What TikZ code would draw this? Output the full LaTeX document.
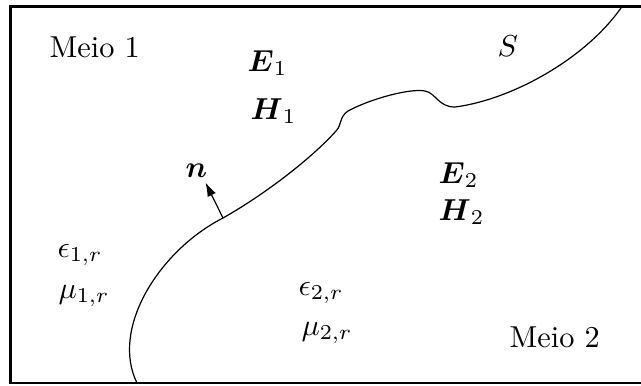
\documentclass[tikz,border=0pt]{standalone}
\usepackage{amsmath}
\usepackage{amssymb}
\usetikzlibrary{arrows.meta, positioning}

\begin{document}
\begin{tikzpicture}[
    x=0.33pt, y=-0.33pt,
    txt/.style={inner sep=0pt, anchor=base west},
    frame/.style={line width=0.8pt},
    surface/.style={line width=0.4pt},
    normal/.style={-{Latex[length=4.6pt, width=3pt]}, line width=0.4pt}
]
    \useasboundingbox (0,0) rectangle (641,385);

    % Frame
    \draw[frame] (641,6.5) -- (10.5,6.5) -- (10.5,383) -- (641,383);

    % Surface S
    \coordinate (foot) at (223,218);
    \draw[surface] (137,383) .. controls (110,328) and (160,250) .. (foot)
        .. controls (262,196) and (310,160) .. (336,131)
        .. controls (342,125) and (339,117) .. (348,111)
        .. controls (370,99) and (410,88) .. (425,91)
        .. controls (436,93) and (438,107) .. (455,107)
        .. controls (510,100) and (585,60) .. (622,6.5);

    % Medium 1
    \node[txt] (meio1) at (49,57) {Meio 1};
    \node[txt] (e1) at (247,71) {$\boldsymbol{E}_1$};
    \node[txt] (h1) at (250,119) {$\boldsymbol{H}_1$};
    \node[txt] (eps1) at (57,257) {$\epsilon_{1,r}$};
    \node[txt] (mu1) at (58,298) {$\mu_{1,r}$};

    % Medium 2
    \node[txt] (surf) at (497,56) {$S$};
    \node[txt] (e2) at (438,183) {$\boldsymbol{E}_2$};
    \node[txt] (h2) at (438,220) {$\boldsymbol{H}_2$};
    \node[txt] (eps2) at (298,295) {$\epsilon_{2,r}$};
    \node[txt] (mu2) at (301,335) {$\mu_{2,r}$};
    \node[txt] (meio2) at (509,347) {Meio 2};

    % Normal vector
    \node[txt] (n) at (185,177) {$\boldsymbol{n}$};
    \draw[normal] (foot) -- ([xshift=3pt, yshift=-1.6pt]n.south);
\end{tikzpicture}
\end{document}
